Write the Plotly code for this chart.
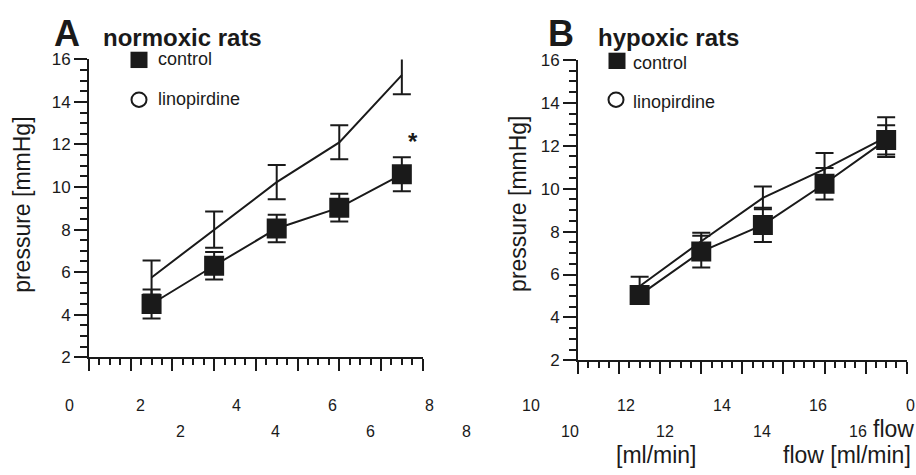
import plotly.graph_objects as go

# ---------------- data ----------------
flow = [3, 6, 9, 12, 15]

a_control = [4.5, 6.3, 8.05, 9.03, 10.6]
a_control_err = [0.68, 0.65, 0.65, 0.65, 0.8]
a_lino = [5.75, 8.0, 10.23, 12.1, 15.26]
a_lino_err = [0.8, 0.85, 0.8, 0.8, 0.9]

b_control = [5.04, 7.07, 8.31, 10.23, 12.27]
b_control_err = [0.4, 0.74, 0.8, 0.73, 0.68]
b_lino = [5.45, 7.55, 9.57, 10.91, 12.4]
b_lino_err = [0.45, 0.4, 0.53, 0.75, 0.93]

x_row1_labels = ["0", "2", "4", "6", "8", "10", "12", "14", "16", "0"]
x_row2_labels = ["2", "4", "6", "8", "10", "12", "14", "16"]

# ---------------- layout helpers ----------------
W, H = 916, 475
INK = "#1a1a1a"
FONT = "Liberation Sans, Arial, sans-serif"


def px(x):
    return x / W


def py(y):
    return 1 - y / H


fig = go.Figure()


def add_panel(xref, yref, ctrl, ctrl_err, lino, lino_err):
    fig.add_trace(go.Scatter(
        x=flow, y=lino, mode="lines", xaxis=xref, yaxis=yref,
        line=dict(color=INK, width=2),
        error_y=dict(type="data", array=lino_err, visible=True,
                     color=INK, thickness=2, width=9),
        showlegend=False, hoverinfo="skip"))
    fig.add_trace(go.Scatter(
        x=flow, y=ctrl, mode="lines+markers", xaxis=xref, yaxis=yref,
        line=dict(color=INK, width=2),
        marker=dict(symbol="square", size=20, color=INK, line=dict(width=0)),
        error_y=dict(type="data", array=ctrl_err, visible=True,
                     color=INK, thickness=2, width=9),
        showlegend=False, hoverinfo="skip"))


add_panel("x", "y", a_control, a_control_err, a_lino, a_lino_err)
add_panel("x2", "y2", b_control, b_control_err, b_lino, b_lino_err)


def xaxis_style(domain, anchor):
    return dict(domain=domain, anchor=anchor, range=[0, 16],
                showgrid=False, zeroline=False, showline=True,
                linecolor=INK, linewidth=2, mirror=False,
                ticks="outside", tickmode="linear", tick0=0, dtick=2,
                ticklen=12, tickwidth=2, tickcolor=INK,
                showticklabels=False,
                minor=dict(tickmode="linear", tick0=0, dtick=0.5,
                           ticks="outside", ticklen=6,
                           tickwidth=2, tickcolor=INK, showgrid=False))


def yaxis_style(domain, anchor):
    return dict(domain=domain, anchor=anchor, range=[2, 16],
                showgrid=False, zeroline=False, showline=True,
                linecolor=INK, linewidth=2,
                ticks="outside", tickmode="linear", tick0=0, dtick=2,
                ticklen=13, tickwidth=2, tickcolor=INK,
                tickfont=dict(size=17, color=INK, family=FONT),
                minor=dict(tickmode="linear", tick0=0, dtick=0.5,
                           ticks="outside", ticklen=7,
                           tickwidth=2, tickcolor=INK, showgrid=False))


fig.update_layout(
    width=W, height=H,
    margin=dict(l=0, r=0, t=0, b=0),
    paper_bgcolor="white", plot_bgcolor="white",
    font=dict(family=FONT, color=INK),
    xaxis=xaxis_style([px(89), px(422.7)], "y"),
    yaxis=yaxis_style([py(362.7), py(52.5)], "x"),
    xaxis2=xaxis_style([px(578), px(906.7)], "y2"),
    yaxis2=yaxis_style([py(366), py(53)], "x2"),
)

ann = []


def text(x, y, s, size, bold=False, xanchor="center", angle=0):
    ann.append(dict(
        x=px(x), y=py(y), xref="paper", yref="paper",
        text=f"<b>{s}</b>" if bold else s, showarrow=False,
        xanchor=xanchor, yanchor="middle", textangle=angle,
        font=dict(size=size, color=INK, family=FONT)))


# panel letters and titles
text(67, 26, "A", 36, bold=True)
text(101, 30, "normoxic rats", 24, bold=True, xanchor="left")
text(561, 26, "B", 36, bold=True)
text(596, 30, "hypoxic rats", 24, bold=True, xanchor="left")

# legend texts
text(156, 52, "control", 18, xanchor="left")
text(156, 94, "linopirdine", 18, xanchor="left")
text(631, 56, "control", 18, xanchor="left")
text(631, 97, "linopirdine", 18, xanchor="left")

# significance star
text(413, 138, "*", 24, bold=True)

# y titles
text(22, 204, "pressure [mmHg]", 23, angle=-90)
text(518, 203, "pressure [mmHg]", 23, angle=-90)

# garbled x tick label rows
row1_x = [69.3, 140, 236.7, 332.7, 429.3, 531, 625.7, 722.3, 818.3, 910]
for lab, x in zip(x_row1_labels, row1_x):
    text(x, 413, lab, 16)
row2_x = [180, 275, 370.7, 466.7, 570, 665, 761.7, 858.3]
for lab, x in zip(x_row2_labels, row2_x):
    text(x, 440, lab, 16)

# x titles
text(893, 438, "flow", 23)
text(656, 465, "[ml/min]", 23)
text(847, 465, "flow [ml/min]", 23)

fig.update_layout(annotations=ann)

# legend symbols
shapes = []
for (sx, sy) in [(139, 53), (617, 54)]:
    shapes.append(dict(type="rect", xref="paper", yref="paper",
                       x0=px(sx - 8.5), x1=px(sx + 8.5),
                       y0=py(sy + 8.5), y1=py(sy - 8.5),
                       fillcolor=INK, line=dict(width=0)))
for (cx, cy) in [(139, 94.5), (616, 94.5)]:
    shapes.append(dict(type="circle", xref="paper", yref="paper",
                       x0=px(cx - 7.5), x1=px(cx + 7.5),
                       y0=py(cy + 7.5), y1=py(cy - 7.5),
                       fillcolor="white", line=dict(color=INK, width=2)))
fig.update_layout(shapes=shapes)

fig.write_html("out.html")
